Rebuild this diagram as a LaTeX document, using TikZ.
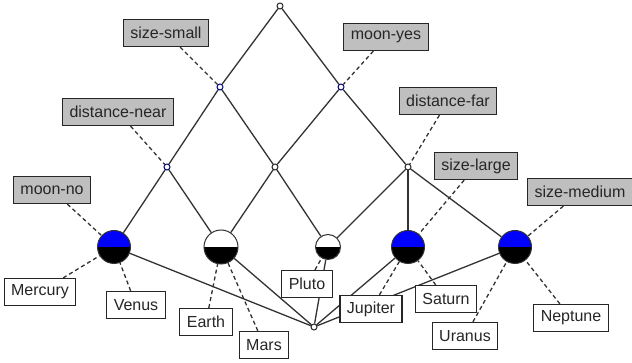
\documentclass[tikz,border=0pt]{standalone}
\usepackage{fontspec}
\setmainfont{Liberation Sans}
\begin{document}
\begin{tikzpicture}[x=1pt,y=-1pt,
  edge/.style={draw=black!80,line width=1.3pt},
  link/.style={draw=black!80,line width=1.3pt,dash pattern=on 4pt off 3pt},
  dot/.style={circle,draw=black!85,fill=white,line width=1pt,inner sep=0pt,minimum size=6pt},
  bluedot/.style={dot,draw=blue!50!black},
  concept/.style={circle,draw=black!80,line width=1pt,inner sep=0pt,minimum size=#1,
    path picture={
      \fill[\topcolor] (path picture bounding box.west) rectangle (path picture bounding box.north east);
      \fill[black] (path picture bounding box.west) rectangle (path picture bounding box.south east);}},
  attr/.style={draw=black!85,fill=black!25,line width=1.2pt,minimum height=27pt,inner xsep=7pt,inner ysep=0pt,
    font=\fontsize{16}{19}\selectfont,text=black!85},
  obj/.style={attr,fill=white}
]
\useasboundingbox (0,0) rectangle (632,363);
\fill[white] (0,0) rectangle (632,363);

% lattice points
\node[dot] (top) at (280,6) {};
\node[bluedot] (small) at (220,87) {};
\node[bluedot] (yes) at (341,87) {};
\node[bluedot] (near) at (167,167) {};
\node[dot] (mid) at (275,167) {};
\node[dot] (far) at (408,167) {};
\node[dot] (bot) at (314,327) {};

% object concepts
\def\topcolor{blue}
\node[concept=33pt] (mv) at (114,247) {};
\node[concept=33pt] (js) at (408,247) {};
\node[concept=33pt] (un) at (515,247) {};
\def\topcolor{white}
\node[concept=34pt] (em) at (221,247) {};
\node[concept=25pt] (pl) at (328,247) {};

% lattice edges
\draw[edge] (top) -- (small);
\draw[edge] (top) -- (yes);
\draw[edge] (small) -- (near);
\draw[edge] (small) -- (mid);
\draw[edge] (yes) -- (mid);
\draw[edge] (yes) -- (far);
\draw[edge] (near) -- (mv);
\draw[edge] (near) -- (em);
\draw[edge] (mid) -- (em);
\draw[edge] (mid) -- (pl);
\draw[edge] (far) -- (pl);
\draw[edge] (far) -- (js);
\draw[edge] (far) -- (un);
\draw[edge] (bot) -- (mv);
\draw[edge] (bot) -- (em);
\draw[edge] (bot) -- (pl);
\draw[edge] (bot) -- (js);
\draw[edge] (bot) -- (un);

% attribute labels
\node[attr] (lsmall) at (166,33) {size-small};
\node[attr] (lnear) at (118,112) {distance-near};
\node[attr] (lno) at (52,190) {moon-no};
\node[attr] (lyes) at (386,37) {moon-yes};
\node[attr] (lfar) at (448,101) {distance-far};
\node[attr] (llarge) at (476,166) {size-large};
\node[attr] (lmed) at (580,192) {size-medium};

% object labels (white fill hides the edges passing behind)
\node[obj] (lmerc) at (40,292) {Mercury};
\node[obj] (lven) at (136,305) {Venus};
\node[obj] (lear) at (206,322) {Earth};
\node[obj] (lmars) at (264,345) {Mars};
\node[obj] (lplu) at (307,284) {Pluto};
\node[obj] (ljup) at (371,309) {Jupiter};
\node[obj] (lsat) at (446,299) {Saturn};
\node[obj] (lura) at (465,336) {Uranus};
\node[obj] (lnep) at (571,318) {Neptune};

% label links
\draw[link] (lsmall) -- (small);
\draw[link] (lnear) -- (near);
\draw[link] (lno) -- (mv);
\draw[link] (lyes) -- (yes);
\draw[link] (lfar) -- (far);
\draw[link] (llarge) -- (js);
\draw[link] (lmed) -- (un);
\draw[link] (lmerc) -- (mv);
\draw[link] (lven) -- (mv);
\draw[link] (lear) -- (em);
\draw[link] (lmars) -- (em);
\draw[link] (lplu) -- (pl);
\draw[link] (ljup) -- (js);
\draw[link] (lsat) -- (js);
\draw[link] (lura) -- (un);
\draw[link] (lnep) -- (un);
\end{tikzpicture}
\end{document}
